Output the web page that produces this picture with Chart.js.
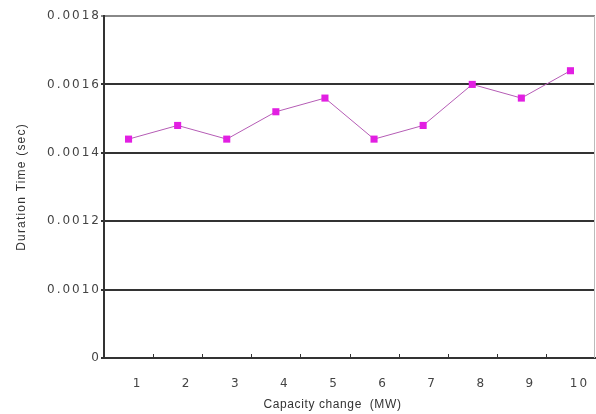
<!DOCTYPE html>
<html lang="en">
<head>
    <meta charset="UTF-8">
    <title>Duration Time vs Capacity change</title>
    <script src="https://cdn.jsdelivr.net/npm/chart.js"></script>
    <style>
        html, body { margin: 0; padding: 0; background: #fff; }
    </style>
</head>
<body>
    <div style="width: 596px; height: 414px;">
        <canvas id="lineChart"></canvas>
    </div>

    <script>
        // Données
        const capacities = ['1', '2', '3', '4', '5', '6', '7', '8', '9', '10'];
        const durations = [0.00144, 0.00148, 0.00144, 0.00152, 0.00156, 0.00144, 0.00148, 0.00160, 0.00156, 0.00164];
        const yTicks = [0.0008, 0.0010, 0.0012, 0.0014, 0.0016, 0.0018];
        const yTickLabels = ['0', '0.0010', '0.0012', '0.0014', '0.0016', '0.0018'];
        const xTitle = 'Capacity change  (MW)';
        const yTitle = 'Duration Time (sec)';

        const FONT = "'DejaVu Sans', sans-serif";
        const TITLE_FONT = "'Liberation Sans', Arial, sans-serif";

        // espacement des lettres (police d'origine assez large)
        const spacing = {
            id: 'spacing',
            beforeUpdate(chart) { chart.ctx.letterSpacing = '2px'; },
            beforeDraw(chart) { chart.ctx.letterSpacing = '2px'; }
        };

        // titres des axes, petits traits entre catégories, bord droit
        const frame = {
            id: 'frame',
            afterDraw(chart) {
                const { ctx, chartArea, scales } = chart;
                const x = scales.x;
                ctx.save();
                ctx.strokeStyle = '#bbb';
                ctx.lineWidth = 1;
                ctx.beginPath();
                ctx.moveTo(chartArea.right - 0.5, chartArea.top);
                ctx.lineTo(chartArea.right - 0.5, chartArea.bottom);
                ctx.stroke();

                ctx.strokeStyle = '#333';
                ctx.beginPath();
                for (let i = 1; i < capacities.length; i++) {
                    const px = Math.round((x.getPixelForValue(i - 1) + x.getPixelForValue(i)) / 2) + 0.5;
                    ctx.moveTo(px, chartArea.bottom);
                    ctx.lineTo(px, chartArea.bottom - 4);
                }
                ctx.stroke();

                ctx.fillStyle = '#333';
                ctx.font = '12px ' + TITLE_FONT;
                ctx.letterSpacing = '0.6px';
                ctx.textAlign = 'center';
                ctx.textBaseline = 'middle';
                ctx.fillText(xTitle, (chartArea.left + chartArea.right) / 2 - 17, 405);

                ctx.letterSpacing = '1.2px';
                ctx.translate(22, (chartArea.top + chartArea.bottom) / 2);
                ctx.rotate(-Math.PI / 2);
                ctx.fillText(yTitle, 0, 0);
                ctx.restore();
            }
        };

        const ctx = document.getElementById('lineChart').getContext('2d');
        new Chart(ctx, {
            type: 'line',
            data: {
                labels: capacities,
                datasets: [{
                    data: durations,
                    borderColor: '#b55cb5',
                    borderWidth: 1,
                    pointStyle: 'rect',
                    pointRadius: 5,
                    pointBackgroundColor: '#e21fe2',
                    pointBorderColor: '#e21fe2',
                    pointBorderWidth: 0,
                    tension: 0,
                    fill: false
                }]
            },
            options: {
                responsive: true,
                maintainAspectRatio: false,
                animation: false,
                layout: {
                    autoPadding: false,
                    padding: { top: 16, right: 1, left: 0, bottom: 0 }
                },
                plugins: {
                    legend: { display: false },
                    tooltip: { enabled: false }
                },
                scales: {
                    x: {
                        offset: true,
                        grid: { display: false, offset: true },
                        border: { display: true, color: '#333', width: 2 },
                        ticks: {
                            color: '#444',
                            font: { family: FONT, size: 12 },
                            labelOffset: 9,
                            padding: 11,
                            maxRotation: 0
                        },
                        afterFit(scale) {
                            scale.height = 56;
                            scale.paddingLeft = 0;
                            scale.paddingRight = 0;
                        }
                    },
                    y: {
                        min: 0.0008,
                        max: 0.0018,
                        afterBuildTicks(scale) {
                            scale.ticks = yTicks.map(v => ({ value: v }));
                        },
                        grid: {
                            color: ctx => ctx.index === yTicks.length - 1 ? '#888' : '#333',
                            lineWidth: 2,
                            tickLength: 3
                        },
                        border: { display: true, color: '#333', width: 2 },
                        ticks: {
                            color: '#444',
                            font: { family: FONT, size: 12 },
                            padding: 0,
                            callback: (v, i) => yTickLabels[i]
                        },
                        afterFit(scale) { scale.width = 104; }
                    }
                }
            },
            plugins: [spacing, frame]
        });
    </script>
</body>
</html>
